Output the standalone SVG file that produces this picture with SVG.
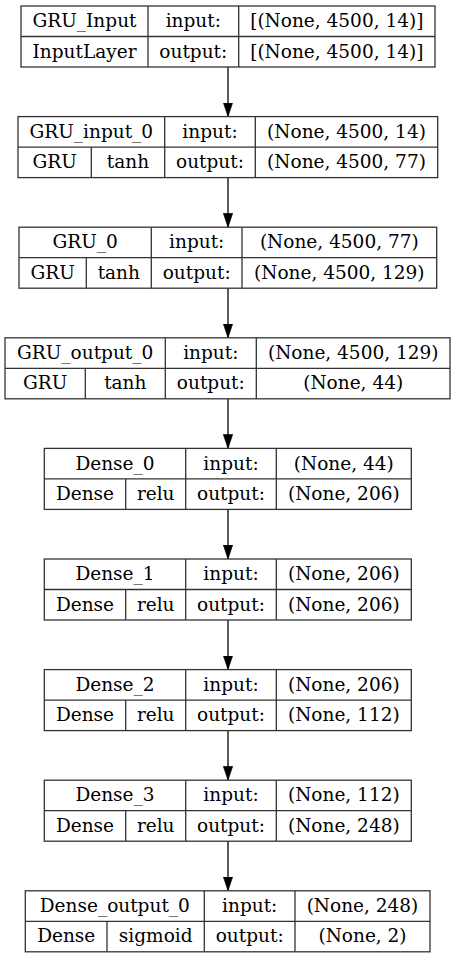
<svg xmlns="http://www.w3.org/2000/svg" width="456" height="959" viewBox="0 0 456 959">
  <style>
    .box { fill: #ffffff; stroke: #333333; stroke-width: 1.3; }
    .sep { stroke: #333333; stroke-width: 1.3; fill: none; }
    .edge { stroke: #333333; stroke-width: 1.6; fill: none; }
    text { font-family: "DejaVu Serif", "Liberation Serif", serif; font-size: 18.5px; fill: #000000; text-anchor: middle; }
  </style>
  <defs>
    <marker id="arrow" markerUnits="userSpaceOnUse" markerWidth="14" markerHeight="10" refX="14" refY="5" orient="auto" viewBox="0 0 14 10">
      <path d="M0,0.3 L14,5 L0,9.7 Z" fill="#000000" stroke="#000000" stroke-width="0.6"/>
    </marker>
  </defs>
  <rect width="456" height="959" fill="#ffffff"/>

  <!-- connectors -->
  <g id="edges">
    <line class="edge" x1="228" y1="67" x2="228" y2="116.6" marker-end="url(#arrow)"/>
    <line class="edge" x1="228" y1="177.6" x2="228" y2="227.2" marker-end="url(#arrow)"/>
    <line class="edge" x1="228" y1="288.2" x2="228" y2="337.8" marker-end="url(#arrow)"/>
    <line class="edge" x1="228" y1="398.8" x2="228" y2="448.4" marker-end="url(#arrow)"/>
    <line class="edge" x1="228" y1="509.4" x2="228" y2="559" marker-end="url(#arrow)"/>
    <line class="edge" x1="228" y1="620" x2="228" y2="669.6" marker-end="url(#arrow)"/>
    <line class="edge" x1="228" y1="730.6" x2="228" y2="780.2" marker-end="url(#arrow)"/>
    <line class="edge" x1="228" y1="841.2" x2="228" y2="890.8" marker-end="url(#arrow)"/>
  </g>

  <!-- GRU_Input -->
  <g id="GRU_Input" transform="translate(0,6)">
    <rect class="box" x="21" y="0" width="414" height="61"/>
    <path class="sep" d="M21,30.5 H435 M148,0 V61 M238.7,0 V61"/>
    <text x="84.5" y="21.2">GRU_Input</text>
    <text x="193.3" y="21.2">input:</text>
    <text x="336.8" y="21.2">[(None, 4500, 14)]</text>
    <text x="84.5" y="51.7">InputLayer</text>
    <text x="193.3" y="51.7">output:</text>
    <text x="336.8" y="51.7">[(None, 4500, 14)]</text>
  </g>

  <!-- GRU_input_0 -->
  <g id="GRU_input_0" transform="translate(0,116.6)">
    <rect class="box" x="18" y="0" width="419.7" height="61"/>
    <path class="sep" d="M18,30.5 H437.7 M164.7,0 V61 M255.3,0 V61 M91.3,30.5 V61"/>
    <text x="91.3" y="21.2">GRU_input_0</text>
    <text x="210" y="21.2">input:</text>
    <text x="346.5" y="21.2">(None, 4500, 14)</text>
    <text x="54.7" y="51.7">GRU</text>
    <text x="128" y="51.7">tanh</text>
    <text x="210" y="51.7">output:</text>
    <text x="346.5" y="51.7">(None, 4500, 77)</text>
  </g>

  <!-- GRU_0 -->
  <g id="GRU_0" transform="translate(0,227.2)">
    <rect class="box" x="19" y="0" width="417.7" height="61"/>
    <path class="sep" d="M19,30.5 H436.7 M151.3,0 V61 M242,0 V61 M86.3,30.5 V61"/>
    <text x="85.2" y="21.2">GRU_0</text>
    <text x="196.7" y="21.2">input:</text>
    <text x="339.3" y="21.2">(None, 4500, 77)</text>
    <text x="52.7" y="51.7">GRU</text>
    <text x="118.8" y="51.7">tanh</text>
    <text x="196.7" y="51.7">output:</text>
    <text x="339.3" y="51.7">(None, 4500, 129)</text>
  </g>

  <!-- GRU_output_0 -->
  <g id="GRU_output_0" transform="translate(0,337.8)">
    <rect class="box" x="5" y="0" width="445" height="61"/>
    <path class="sep" d="M5,30.5 H450 M165.3,0 V61 M256.3,0 V61 M85.3,30.5 V61"/>
    <text x="85.2" y="21.2">GRU_output_0</text>
    <text x="210.8" y="21.2">input:</text>
    <text x="353.2" y="21.2">(None, 4500, 129)</text>
    <text x="45.2" y="51.7">GRU</text>
    <text x="125.3" y="51.7">tanh</text>
    <text x="210.8" y="51.7">output:</text>
    <text x="353.2" y="51.7">(None, 44)</text>
  </g>

  <!-- Dense_0 -->
  <g id="Dense_0" transform="translate(0,448.4)">
    <rect class="box" x="44.3" y="0" width="367" height="61"/>
    <path class="sep" d="M44.3,30.5 H411.3 M185.7,0 V61 M276.3,0 V61 M125.7,30.5 V61"/>
    <text x="115" y="21.2">Dense_0</text>
    <text x="231" y="21.2">input:</text>
    <text x="343.8" y="21.2">(None, 44)</text>
    <text x="85" y="51.7">Dense</text>
    <text x="155.7" y="51.7">relu</text>
    <text x="231" y="51.7">output:</text>
    <text x="343.8" y="51.7">(None, 206)</text>
  </g>

  <!-- Dense_1 -->
  <g id="Dense_1" transform="translate(0,559)">
    <rect class="box" x="44.3" y="0" width="367" height="61"/>
    <path class="sep" d="M44.3,30.5 H411.3 M185.7,0 V61 M276.3,0 V61 M125.7,30.5 V61"/>
    <text x="115" y="21.2">Dense_1</text>
    <text x="231" y="21.2">input:</text>
    <text x="343.8" y="21.2">(None, 206)</text>
    <text x="85" y="51.7">Dense</text>
    <text x="155.7" y="51.7">relu</text>
    <text x="231" y="51.7">output:</text>
    <text x="343.8" y="51.7">(None, 206)</text>
  </g>

  <!-- Dense_2 -->
  <g id="Dense_2" transform="translate(0,669.6)">
    <rect class="box" x="44.3" y="0" width="367" height="61"/>
    <path class="sep" d="M44.3,30.5 H411.3 M185.7,0 V61 M276.3,0 V61 M125.7,30.5 V61"/>
    <text x="115" y="21.2">Dense_2</text>
    <text x="231" y="21.2">input:</text>
    <text x="343.8" y="21.2">(None, 206)</text>
    <text x="85" y="51.7">Dense</text>
    <text x="155.7" y="51.7">relu</text>
    <text x="231" y="51.7">output:</text>
    <text x="343.8" y="51.7">(None, 112)</text>
  </g>

  <!-- Dense_3 -->
  <g id="Dense_3" transform="translate(0,780.2)">
    <rect class="box" x="44.3" y="0" width="367" height="61"/>
    <path class="sep" d="M44.3,30.5 H411.3 M185.7,0 V61 M276.3,0 V61 M125.7,30.5 V61"/>
    <text x="115" y="21.2">Dense_3</text>
    <text x="231" y="21.2">input:</text>
    <text x="343.8" y="21.2">(None, 112)</text>
    <text x="85" y="51.7">Dense</text>
    <text x="155.7" y="51.7">relu</text>
    <text x="231" y="51.7">output:</text>
    <text x="343.8" y="51.7">(None, 248)</text>
  </g>

  <!-- Dense_output_0 -->
  <g id="Dense_output_0" transform="translate(0,890.8)">
    <rect class="box" x="25.3" y="0" width="404.7" height="61"/>
    <path class="sep" d="M25.3,30.5 H430 M204.3,0 V61 M295,0 V61 M107,30.5 V61"/>
    <text x="114.8" y="21.2">Dense_output_0</text>
    <text x="249.7" y="21.2">input:</text>
    <text x="362.5" y="21.2">(None, 248)</text>
    <text x="66.2" y="51.7">Dense</text>
    <text x="155.7" y="51.7">sigmoid</text>
    <text x="249.7" y="51.7">output:</text>
    <text x="362.5" y="51.7">(None, 2)</text>
  </g>
</svg>
